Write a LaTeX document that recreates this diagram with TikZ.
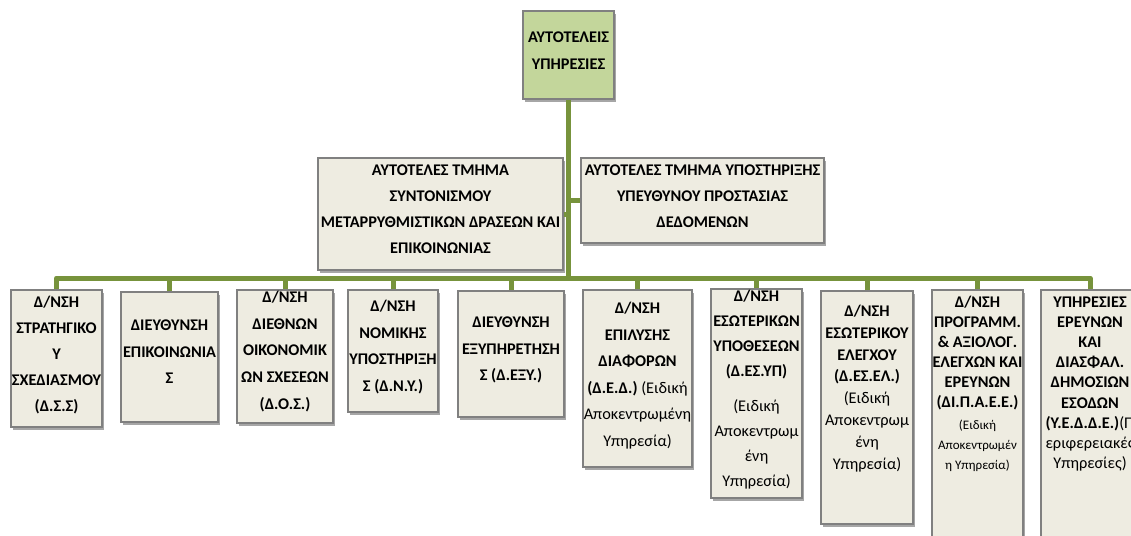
\documentclass[tikz,border=0pt]{standalone}
\usepackage{fontspec}
\setmainfont{Carlito}
\usetikzlibrary{shadows}
\definecolor{beige}{HTML}{EEECE1}
\definecolor{leaf}{HTML}{C3D69B}
\definecolor{olive}{HTML}{77933C}
\definecolor{edgegray}{HTML}{808080}
\begin{document}
\begin{tikzpicture}[x=1pt,y=-1pt,
  box/.style={draw=edgegray, line width=1.2pt, fill=beige, inner sep=0pt,
    drop shadow={shadow xshift=2pt, shadow yshift=-3pt, opacity=0.35, fill=black}},
  conn/.style={draw=olive, line width=5pt},
  txt/.style={align=center, inner sep=0pt, font=\bfseries\fontsize{16.3}{26}\selectfont}]
\useasboundingbox (0,0) rectangle (1131,535);
\clip (0,0) rectangle (1131,535);
% boxes
\node[box, fill=leaf, minimum width=91pt, minimum height=88pt] (T) at (568.5,55) {};
\node[box, minimum width=245pt, minimum height=112pt] (ML) at (440.5,214) {};
\node[box, minimum width=243pt, minimum height=85pt] (MR) at (702.5,200.5) {};
\node[box, minimum width=91pt, minimum height=137pt] (b1) at (56.5,358.5) {};
\node[box, minimum width=97pt, minimum height=130pt] (b2) at (169.5,357) {};
\node[box, minimum width=96pt, minimum height=133pt] (b3) at (285,356.5) {};
\node[box, minimum width=90pt, minimum height=122pt] (b4) at (393,351) {};
\node[box, minimum width=106pt, minimum height=126pt] (b5) at (511,354) {};
\node[box, minimum width=109pt, minimum height=177pt] (b6) at (637.5,378.5) {};
\node[box, minimum width=91pt, minimum height=209pt] (b7) at (756.5,393.5) {};
\node[box, minimum width=92pt, minimum height=233pt] (b8) at (867,407.5) {};
\node[box, minimum width=91pt, minimum height=280pt] (b9) at (977.5,430) {};
\node[box, minimum width=98pt, minimum height=280pt] (b10) at (1090,430) {};
% connectors
\coordinate (hub) at (568.5,278);
\draw[conn] (T.south) -- (hub);
\draw[conn] (ML.east) -- (ML.east -| hub);
\draw[conn] (MR.west) -- (MR.west -| hub);
\draw[conn, line join=round] (b1.north) |- (hub) -| (b10.north);
\foreach \i in {2,...,9} \draw[conn] (b\i.north) -- (b\i.north |- hub);
% texts
\node[txt, font=\bfseries\fontsize{16.3}{27}\selectfont] (tT) at (568.5,50.5) {ΑΥΤΟΤΕΛΕΙΣ\\ΥΠΗΡΕΣΙΕΣ};
\node[txt] (tML) at (440.5,209) {ΑΥΤΟΤΕΛΕΣ ΤΜΗΜΑ\\ΣΥΝΤΟΝΙΣΜΟΥ\\ΜΕΤΑΡΡΥΘΜΙΣΤΙΚΩΝ ΔΡΑΣΕΩΝ ΚΑΙ\\ΕΠΙΚΟΙΝΩΝΙΑΣ};
\node[txt] (tMR) at (702.5,196) {ΑΥΤΟΤΕΛΕΣ ΤΜΗΜΑ ΥΠΟΣΤΗΡΙΞΗΣ\\ΥΠΕΥΘΥΝΟΥ ΠΡΟΣΤΑΣΙΑΣ\\ΔΕΔΟΜΕΝΩΝ};
\node[txt] (t1) at (56.5,355) {Δ/ΝΣΗ\\ΣΤΡΑΤΗΓΙΚΟ\\Υ\\ΣΧΕΔΙΑΣΜΟΥ\\(Δ.Σ.Σ)};
\node[txt, font=\bfseries\fontsize{16.3}{26.5}\selectfont] (t2) at (169.5,352) {ΔΙΕΥΘΥΝΣΗ\\ΕΠΙΚΟΙΝΩΝΙΑ\\Σ};
\node[txt, font=\bfseries\fontsize{16.3}{26.7}\selectfont] (t3) at (285,351.5) {Δ/ΝΣΗ\\ΔΙΕΘΝΩΝ\\ΟΙΚΟΝΟΜΙΚ\\ΩΝ ΣΧΕΣΕΩΝ\\(Δ.Ο.Σ.)};
\node[txt, font=\bfseries\fontsize{16.3}{26.7}\selectfont] (t4) at (393,347) {Δ/ΝΣΗ\\ΝΟΜΙΚΗΣ\\ΥΠΟΣΤΗΡΙΞΗ\\Σ (Δ.Ν.Υ.)};
\node[txt, font=\bfseries\fontsize{16.3}{26.7}\selectfont] (t5) at (511,350) {ΔΙΕΥΘΥΝΣΗ\\ΕΞΥΠΗΡΕΤΗΣΗ\\Σ (Δ.ΕΞΥ.)};
\node[txt, font=\bfseries\fontsize{16.3}{26.6}\selectfont] (t6) at (637.5,375.5) {Δ/ΝΣΗ\\ΕΠΙΛΥΣΗΣ\\ΔΙΑΦΟΡΩΝ\\(Δ.Ε.Δ.) {\mdseries (Ειδική}\\{\mdseries Αποκεντρωμένη}\\{\mdseries Υπηρεσία)}};
\node[txt, font=\bfseries\fontsize{16.3}{25}\selectfont] (t7) at (756.5,389.5) {Δ/ΝΣΗ\\ΕΣΩΤΕΡΙΚΩΝ\\ΥΠΟΘΕΣΕΩΝ\\(Δ.ΕΣ.ΥΠ)\\[10pt]{\mdseries (Ειδική}\\{\mdseries Αποκεντρωμ}\\{\mdseries ένη}\\{\mdseries Υπηρεσία)}};
\node[txt, font=\bfseries\fontsize{16.3}{21.9}\selectfont] (t8) at (867,388.5) {Δ/ΝΣΗ\\ΕΣΩΤΕΡΙΚΟΥ\\ΕΛΕΓΧΟΥ\\(Δ.ΕΣ.ΕΛ.)\\{\mdseries (Ειδική}\\{\mdseries Αποκεντρωμ}\\{\mdseries ένη}\\{\mdseries Υπηρεσία)}};
\node[txt, font=\bfseries\fontsize{16.3}{20}\selectfont] (t9) at (977.5,383.5) {Δ/ΝΣΗ\\ΠΡΟΓΡΑΜΜ.\\\& ΑΞΙΟΛΟΓ.\\ΕΛΕΓΧΩΝ ΚΑΙ\\ΕΡΕΥΝΩΝ\\(ΔΙ.Π.Α.Ε.Ε.)\\[2pt]{\mdseries\fontsize{13}{19}\selectfont (Ειδική}\\{\mdseries\fontsize{13}{19}\selectfont Αποκεντρωμέν}\\{\mdseries\fontsize{13}{19}\selectfont η Υπηρεσία)}};
\node[txt, font=\bfseries\fontsize{16.3}{20.2}\selectfont] (t10) at (1090,384) {ΥΠΗΡΕΣΙΕΣ\\ΕΡΕΥΝΩΝ\\ΚΑΙ\\ΔΙΑΣΦΑΛ.\\ΔΗΜΟΣΙΩΝ\\ΕΣΟΔΩΝ\\(Υ.Ε.Δ.Δ.Ε.){\mdseries(Π}\\{\mdseries εριφερειακές}\\{\mdseries Υπηρεσίες)}};
\end{tikzpicture}
\end{document}
